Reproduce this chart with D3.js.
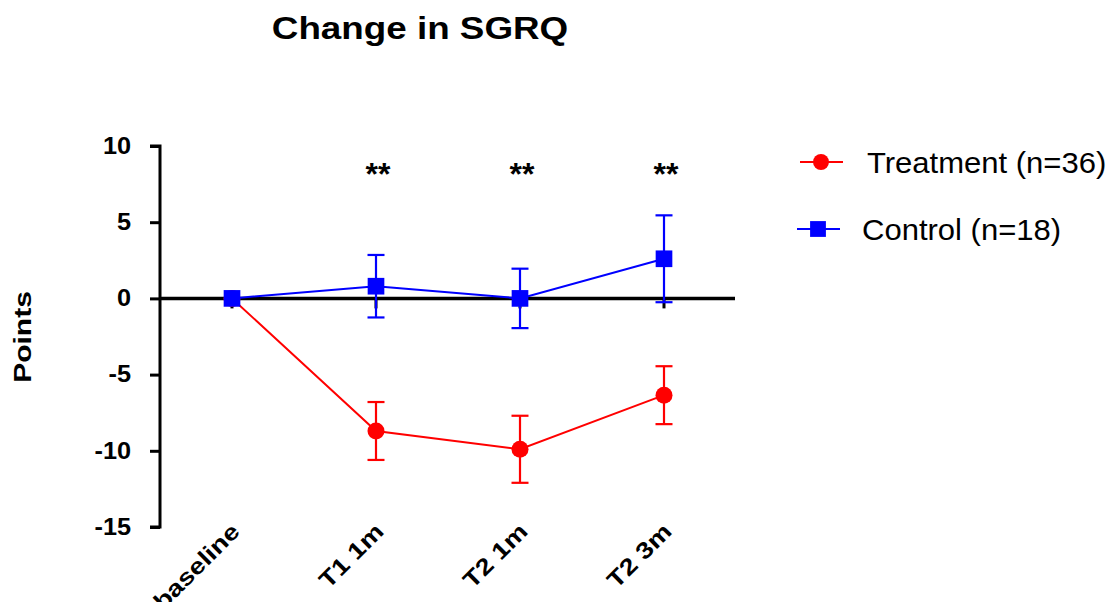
<!DOCTYPE html>
<html>
<head>
<meta charset="utf-8">
<script src="https://cdn.jsdelivr.net/npm/d3@7"></script>
<style>
body { margin: 0; background: #fff; }
text { font-family: "Liberation Sans", Arial, sans-serif; }
</style>
</head>
<body>
<script>
const categories = ["baseline", "T1 1m", "T2 1m", "T2 3m"];
const treatmentMean = [0, -8.7, -9.9, -6.35];
const treatmentErr = [0, 1.9, 2.2, 1.9];
const controlMean = [0, 0.8, 0, 2.6];
const controlErr = [0, 2.05, 1.95, 2.85];
const yTicks = [10, 5, 0, -5, -10, -15];
const stars = ["", "**", "**", "**"];

const width = 1110, height = 602;
const stretch = 1.2; // glyphs in the reference are wider than Liberation Sans

const svg = d3.select("body").append("svg")
    .attr("width", width)
    .attr("height", height)

const y = d3.scaleLinear()
    .domain([-15, 10])
    .range([527, 146])

const x = d3.scalePoint()
    .domain(categories)
    .range([232, 664])

// title
svg.append("text")
    .attr("transform", "translate(420,39) scale(1.15,1)")
    .attr("text-anchor", "middle")
    .attr("font-size", 32)
    .attr("font-weight", "bold")
    .text("Change in SGRQ")

// y axis
const tickStretch = 1.1;
const gy = svg.append("g")
    .attr("transform", "translate(160,0)")
    .call(d3.axisLeft(y).tickValues(yTicks).tickSize(10).tickPadding(19).tickFormat(d => String(d)))
gy.select(".domain").attr("stroke-width", 3).attr("d", `M-10,${y(10)}H0V${y(-15)}H-10`)
gy.selectAll(".tick line").attr("stroke-width", 3)
gy.selectAll(".tick text")
    .attr("x", -29 / tickStretch)
    .attr("transform", `scale(${tickStretch},1)`)
    .attr("font-size", 23)
    .attr("font-weight", "bold")
    .attr("font-family", "Liberation Sans, Arial, sans-serif")
    .attr("fill", "#000")

svg.append("text")
    .attr("transform", "translate(31,337) rotate(-90) scale(1.25,1)")
    .attr("text-anchor", "middle")
    .attr("font-size", 24)
    .attr("font-weight", "bold")
    .text("Points")

// zero line with category ticks
svg.append("line")
    .attr("x1", 160).attr("x2", 735)
    .attr("y1", y(0)).attr("y2", y(0))
    .attr("stroke", "#000").attr("stroke-width", 3.5)

svg.selectAll(".xtick")
    .data(categories)
    .enter()
    .append("line")
    .attr("class", "xtick")
    .attr("x1", d => x(d)).attr("x2", d => x(d))
    .attr("y1", y(0)).attr("y2", y(0) + 10)
    .attr("stroke", "#000").attr("stroke-width", 3)

svg.selectAll(".xlabel")
    .data(categories)
    .enter()
    .append("text")
    .attr("class", "xlabel")
    .attr("transform", d => `translate(${x(d) + 9},${533}) rotate(-45) scale(${stretch},1)`)
    .attr("text-anchor", "end")
    .attr("font-size", 23)
    .attr("font-weight", "bold")
    .text(d => d)

// significance stars
svg.selectAll(".star")
    .data(categories)
    .enter()
    .append("text")
    .attr("class", "star")
    .attr("x", d => x(d) + 2)
    .attr("y", 185)
    .attr("text-anchor", "middle")
    .attr("font-size", 32)
    .attr("font-weight", "bold")
    .text((d, i) => stars[i])

function drawSeries(means, errs, color, shape) {
    const pts = categories.map((c, i) => ({c: c, m: means[i], e: errs[i]}));
    const g = svg.append("g");
    g.append("path")
        .datum(pts)
        .attr("fill", "none")
        .attr("stroke", color)
        .attr("stroke-width", 2)
        .attr("d", d3.line().x(d => x(d.c)).y(d => y(d.m)))

    const eb = g.selectAll(".eb")
        .data(pts.filter(d => d.e > 0))
        .enter()
        .append("g")
        .attr("stroke", color)
        .attr("stroke-width", 2.2)
    eb.append("line")
        .attr("x1", d => x(d.c)).attr("x2", d => x(d.c))
        .attr("y1", d => y(d.m + d.e)).attr("y2", d => y(d.m - d.e))
    eb.append("line")
        .attr("x1", d => x(d.c) - 8.5).attr("x2", d => x(d.c) + 8.5)
        .attr("y1", d => y(d.m + d.e)).attr("y2", d => y(d.m + d.e))
    eb.append("line")
        .attr("x1", d => x(d.c) - 8.5).attr("x2", d => x(d.c) + 8.5)
        .attr("y1", d => y(d.m - d.e)).attr("y2", d => y(d.m - d.e))

    g.selectAll(".pt")
        .data(pts)
        .enter()
        .append("path")
        .attr("transform", d => `translate(${x(d.c)},${y(d.m)})`)
        .attr("fill", color)
        .attr("d", d3.symbol().type(shape).size(shape === d3.symbolCircle ? 227 : 278))
}

drawSeries(treatmentMean, treatmentErr, "#ff0000", d3.symbolCircle)
drawSeries(controlMean, controlErr, "#0000ff", d3.symbolSquare)

// legend
const legend = [
    {label: "Treatment (n=36)", color: "#ff0000", shape: d3.symbolCircle, x: 800, y: 162, tx: 67, ty: 11},
    {label: "Control (n=18)", color: "#0000ff", shape: d3.symbolSquare, x: 797, y: 229, tx: 65, ty: 11}
];
const lg = svg.selectAll(".legend")
    .data(legend)
    .enter()
    .append("g")
    .attr("transform", d => `translate(${d.x},${d.y})`)
lg.append("line")
    .attr("x1", 0).attr("x2", 43)
    .attr("stroke", d => d.color).attr("stroke-width", 2)
lg.append("path")
    .attr("transform", "translate(21,0)")
    .attr("fill", d => d.color)
    .attr("d", d => d3.symbol().type(d.shape).size(d.shape === d3.symbolCircle ? 200 : 250)())
lg.append("text")
    .attr("transform", d => `translate(${d.tx},${d.ty}) scale(1.07,1)`)
    .attr("font-size", 29)
    .text(d => d.label)
</script>
</body>
</html>
